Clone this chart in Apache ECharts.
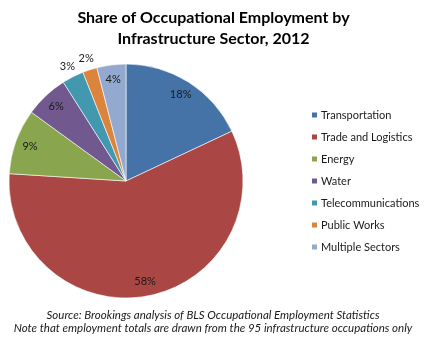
<!DOCTYPE html>
<html>
<head>
<meta charset="utf-8">
<script src="https://cdn.jsdelivr.net/npm/echarts@6/dist/echarts.min.js"></script>
<style>
  html, body { margin: 0; padding: 0; background: #fff; }
  #chart { width: 427px; height: 337px; }
</style>
</head>
<body>
<div id="chart"></div>
<script>
// Infrastructure occupational employment shares, 2012 (percent)
const sectors = ['Transportation', 'Trade and Logistics', 'Energy', 'Water',
                 'Telecommunications', 'Public Works', 'Multiple Sectors'];
const shares = [18, 58, 9, 6, 3, 2, 4];
const sectorColors = ['#4572A7', '#AA4643', '#89A54E', '#71588F',
                      '#4198AF', '#DB843D', '#93A9CF'];
// small slices get their label outside the pie
const outsideLabel = [false, false, false, false, true, true, false];

const FONT = 'Lato, "Open Sans", sans-serif';
const center = [126, 181];
const R = 117;

const pieData = sectors.map((name, i) => ({
  name, value: shares[i], itemStyle: { color: sectorColors[i] }
}));

// transparent rings used only to place the percentage labels
function labelRing(inner, outer, useOutside) {
  return {
    type: 'pie',
    silent: true,
    center: center,
    radius: [inner, outer],
    startAngle: 90,
    clockwise: true,
    legendHoverLink: false,
    labelLine: { show: false },
    itemStyle: { color: 'rgba(0,0,0,0)', borderWidth: 0 },
    emphasis: { disabled: true },
    tooltip: { show: false },
    data: sectors.map((name, i) => ({
      name: name + ' ',
      value: shares[i],
      label: {
        show: outsideLabel[i] === useOutside,
        position: 'inside',
        formatter: shares[i] + '%',
        color: '#1a1a1a',
        fontFamily: FONT,
        fontSize: 11
      }
    }))
  };
}

const chart = echarts.init(document.getElementById('chart'), null, { renderer: 'canvas' });
chart.setOption({
  animation: false,
  backgroundColor: '#ffffff',
  title: {
    text: 'Share of Occupational Employment by\nInfrastructure Sector, 2012',
    left: 'center',
    top: 2,
    textStyle: {
      fontFamily: FONT, fontWeight: 'bold', fontSize: 16,
      color: '#000', lineHeight: 21
    }
  },
  legend: {
    data: sectors,
    orient: 'vertical',
    left: 305,
    top: 103,
    itemWidth: 7,
    itemHeight: 7,
    itemGap: 8,
    icon: 'rect',
    textStyle: { fontFamily: FONT, fontSize: 11, color: '#1a1a1a', lineHeight: 14, padding: [0, 0, 0, -2] },
    selectedMode: false
  },
  series: [
    {
      type: 'pie',
      center: center,
      radius: R,
      startAngle: 90,
      clockwise: true,
      label: { show: false },
      labelLine: { show: false },
      itemStyle: { borderColor: '#ffffff', borderWidth: 0.6 },
      emphasis: { disabled: true },
      data: pieData
    },
    labelRing(81, 117, false),
    labelRing(118, 134, true)
  ],
  graphic: [
    {
      type: 'text',
      x: 213,
      y: 309,
      style: {
        text: 'Source: Brookings analysis of BLS Occupational Employment Statistics\nNote that employment totals are drawn from the 95 infrastructure occupations only',
        textAlign: 'center',
        fontFamily: FONT,
        fontStyle: 'italic',
        fontSize: 11.5,
        lineHeight: 13,
        fill: '#1a1a1a'
      }
    }
  ]
});
</script>
</body>
</html>
